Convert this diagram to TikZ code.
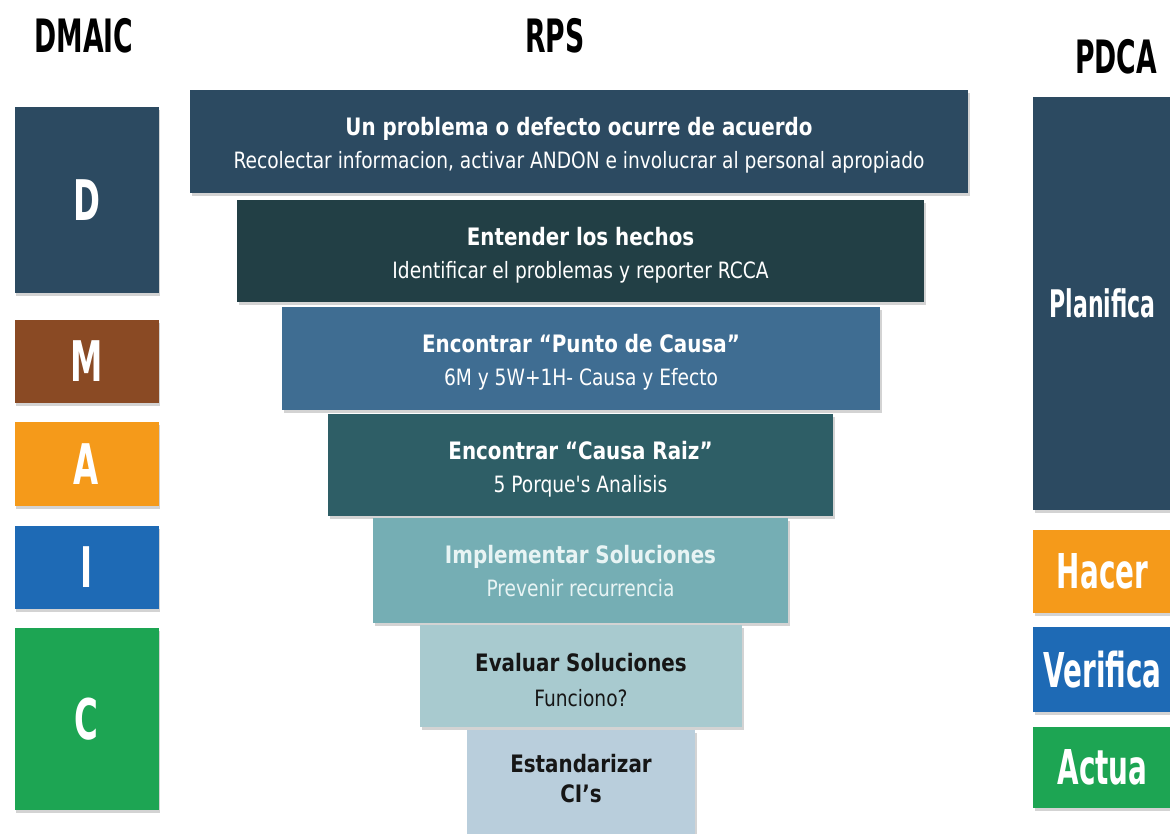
\documentclass[tikz,border=0pt]{standalone}
\usepackage{fontspec}
\setmainfont{DejaVu Sans}
\newfontfamily\stagefont[FakeStretch=0.92]{DejaVu Sans Condensed}
\newfontfamily\narrowfont[FakeStretch=0.58]{DejaVu Sans}
\usetikzlibrary{shadows}

\definecolor{navy}{HTML}{2C4A61}
\definecolor{slate}{HTML}{223F45}
\definecolor{steel}{HTML}{3F6D92}
\definecolor{tealdark}{HTML}{2E5E66}
\definecolor{teallight}{HTML}{75AEB4}
\definecolor{paleteal}{HTML}{A8CACF}
\definecolor{paleblue}{HTML}{B9CEDC}
\definecolor{rust}{HTML}{8A4A24}
\definecolor{amber}{HTML}{F59A1A}
\definecolor{azure}{HTML}{1E6AB5}
\definecolor{leaf}{HTML}{1DA553}
\definecolor{lighttext}{HTML}{E8F4F4}
\definecolor{darktext}{HTML}{161616}

\begin{document}
\begin{tikzpicture}[x=1pt,y=-1pt,
  block/.style={rectangle, inner sep=0pt,
    drop shadow={shadow xshift=1.5pt, shadow yshift=-2.5pt, opacity=0.35}},
  headline/.style={anchor=base, inner sep=0pt, font=\stagefont\bfseries\fontsize{24}{28}\selectfont},
  subline/.style={anchor=base, inner sep=0pt, font=\stagefont\fontsize{22.5}{26}\selectfont},
  letter/.style={block, text=white, font=\narrowfont\bfseries\fontsize{56}{60}\selectfont},
  phase/.style={block, text=white, font=\narrowfont\bfseries\fontsize{48}{52}\selectfont},
  heading/.style={inner sep=0pt, text=black, font=\narrowfont\bfseries\fontsize{46}{50}\selectfont}]

\useasboundingbox (0,0) rectangle (1170,833);
\clip (0,0) rectangle (1170,833);

% column headings
\node[heading] (hdmaic) at (84,36) {DMAIC};
\node[heading] (hrps) at (555,36) {RPS};
\node[heading] (hpdca) at (1116,57) {PDCA};

% RPS funnel: one bar per step, narrowing downwards
\node[block, fill=navy, minimum width=778pt, minimum height=103pt] (s1) at (579,141.5) {};
\node[block, fill=slate, minimum width=687pt, minimum height=102pt] (s2) at (580.5,251) {};
\node[block, fill=steel, minimum width=598pt, minimum height=103pt] (s3) at (581,358.5) {};
\node[block, fill=tealdark, minimum width=505pt, minimum height=102pt] (s4) at (580.5,465) {};
\node[block, fill=teallight, minimum width=415pt, minimum height=105pt] (s5) at (580.5,570.5) {};
\node[block, fill=paleteal, minimum width=322pt, minimum height=102pt] (s6) at (581,676) {};
\node[block, fill=paleblue, minimum width=228pt, minimum height=110pt] (s7) at (581,785) {};

% step texts
\node[headline, text=white] (s1a) at ([yshift=-46pt]s1.north) {Un problema o defecto ocurre de acuerdo};
\node[subline, text=white] (s1b) at ([yshift=-79pt]s1.north) {Recolectar informacion, activar ANDON e involucrar al personal apropiado};
\node[headline, text=white] (s2a) at ([yshift=-46pt]s2.north) {Entender los hechos};
\node[subline, text=white] (s2b) at ([yshift=-79pt]s2.north) {Identificar el problemas y reporter RCCA};
\node[headline, text=white] (s3a) at ([yshift=-46pt]s3.north) {Encontrar “Punto de Causa”};
\node[subline, text=white] (s3b) at ([yshift=-79pt]s3.north) {6M y 5W+1H- Causa y Efecto};
\node[headline, text=white] (s4a) at ([yshift=-46pt]s4.north) {Encontrar “Causa Raiz”};
\node[subline, text=white] (s4b) at ([yshift=-79pt]s4.north) {5 Porque's Analisis};
\node[headline, text=lighttext] (s5a) at ([yshift=-46pt]s5.north) {Implementar Soluciones};
\node[subline, text=lighttext] (s5b) at ([yshift=-79pt]s5.north) {Prevenir recurrencia};
\node[headline, text=darktext] (s6a) at ([yshift=-47pt]s6.north) {Evaluar Soluciones};
\node[subline, text=darktext] (s6b) at ([yshift=-82pt]s6.north) {Funciono?};
\node[headline, text=darktext] (s7a) at ([yshift=-43pt]s7.north) {Estandarizar};
\node[headline, text=darktext] (s7b) at ([yshift=-73pt]s7.north) {CI’s};

% DMAIC column
\node[letter, fill=navy, minimum width=144pt, minimum height=186pt] (d) at (86.5,200) {D};
\node[letter, fill=rust, minimum width=144pt, minimum height=83pt] (m) at (86.5,361.5) {M};
\node[letter, fill=amber, minimum width=144pt, minimum height=84pt] (a) at (86.5,464) {A};
\node[letter, fill=azure, minimum width=144pt, minimum height=83pt] (i) at (86.5,567.5) {I};
\node[letter, fill=leaf, minimum width=144pt, minimum height=182pt] (c) at (86.5,719) {C};

% PDCA column
\node[phase, fill=navy, minimum width=139pt, minimum height=413pt,
      font=\narrowfont\bfseries\fontsize{38}{42}\selectfont] (plan) at (1102.5,303.5) {Planifica};
\node[phase, fill=amber, minimum width=139pt, minimum height=83pt] (hacer) at (1102.5,571.5) {Hacer};
\node[phase, fill=azure, minimum width=139pt, minimum height=85pt] (verif) at (1102.5,669.5) {Verifica};
\node[phase, fill=leaf, minimum width=139pt, minimum height=81pt] (actua) at (1102.5,767.5) {Actua};
\end{tikzpicture}
\end{document}
